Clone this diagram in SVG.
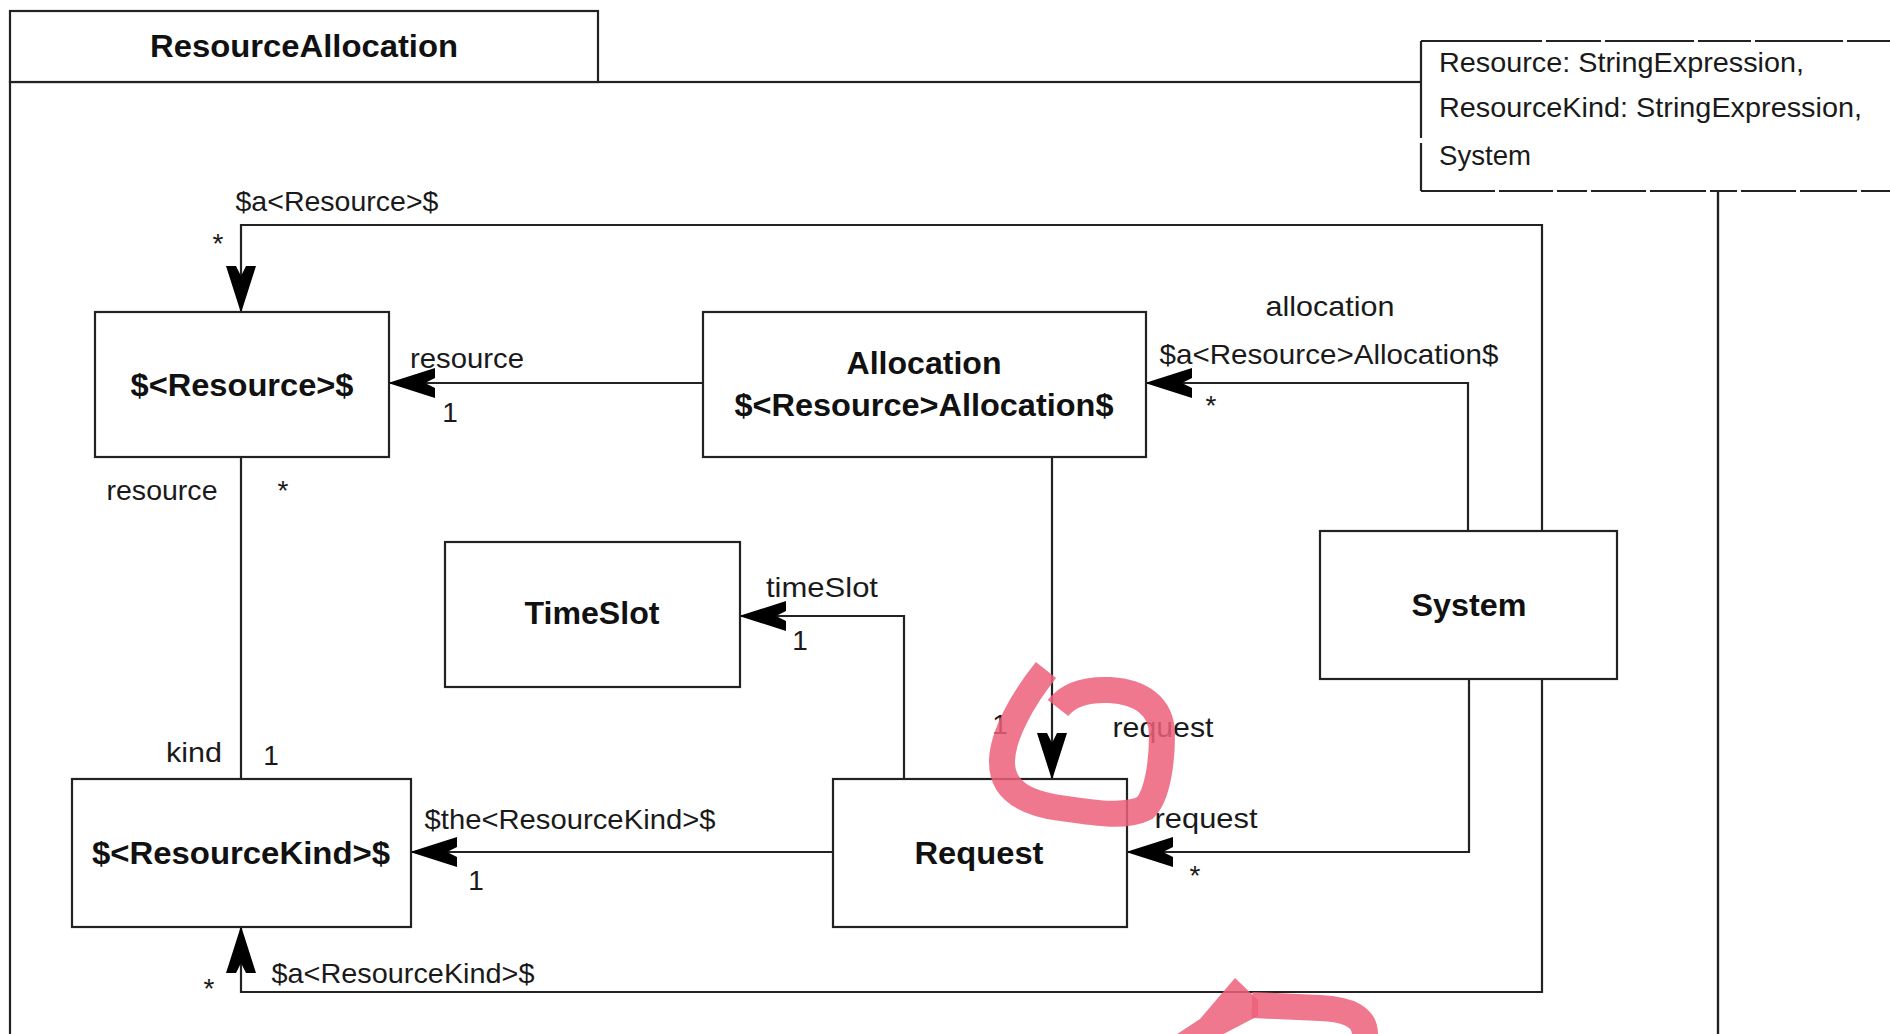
<svg xmlns="http://www.w3.org/2000/svg" width="1890" height="1034" viewBox="0 0 1890 1034">
<style>
.box{fill:#fff;stroke:#222;stroke-width:2.2}
.ln{fill:none;stroke:#222;stroke-width:2.2}
.nt{font-family:"Liberation Sans",Arial,sans-serif;font-weight:bold;font-size:32px;fill:#111;text-anchor:middle;dominant-baseline:central}
.lb{font-family:"Liberation Sans",Arial,sans-serif;font-size:28px;fill:#1a1a1a;text-anchor:middle;dominant-baseline:central}
.nl{font-family:"Liberation Sans",Arial,sans-serif;font-size:28px;fill:#1a1a1a;dominant-baseline:central}
.pk{fill:none;stroke:#ED607A;stroke-width:26;stroke-opacity:0.85}
</style>
<defs>
<marker id="ah" markerUnits="userSpaceOnUse" orient="auto" viewBox="-50 -20 54 40" refX="0" refY="0" markerWidth="54" markerHeight="40">
<path d="M1,0 L-46,-15 L-46,-5 L-36,0 L-46,5 L-46,15 Z" fill="#000"/>
</marker>
</defs>
<rect width="1890" height="1034" fill="#fff"/>
<g id="frame">
<rect class="box" x="10" y="82" width="1708" height="1000"/>
<rect class="box" x="10" y="11" width="588" height="71"/>
<text class="nt" x="304" y="46" textLength="308" lengthAdjust="spacingAndGlyphs">ResourceAllocation</text>
</g>
<g id="template-params">
<rect x="1421" y="41" width="500" height="150" fill="#fff"/>
<path class="ln" d="M1421,41 H1895" stroke-dasharray="121 4 55 4 89 4 53 4 88 4"/>
<path class="ln" d="M1421,191 H1895" stroke-dasharray="74 4 54 4 30 4 55 4 56 4 27 4 55 4 57 4"/>
<path class="ln" d="M1421,41 V191" stroke-dasharray="97 5 60"/>
<text class="nl" x="1439" y="62" textLength="365" lengthAdjust="spacingAndGlyphs">Resource: StringExpression,</text>
<text class="nl" x="1439" y="107" textLength="423" lengthAdjust="spacingAndGlyphs">ResourceKind: StringExpression,</text>
<text class="nl" x="1439" y="155" textLength="92" lengthAdjust="spacingAndGlyphs">System</text>
</g>
<g id="connectors">
<path class="ln" d="M703,383 H389" marker-end="url(#ah)"/>
<path class="ln" d="M1468,531 V383 H1146" marker-end="url(#ah)"/>
<path class="ln" d="M1542,531 V225 H241 V312" marker-end="url(#ah)"/>
<path class="ln" d="M241,457 V779"/>
<path class="ln" d="M1052,457 V779" marker-end="url(#ah)"/>
<path class="ln" d="M904,779 V616 H740" marker-end="url(#ah)"/>
<path class="ln" d="M833,852 H411" marker-end="url(#ah)"/>
<path class="ln" d="M1469,679 V852 H1127" marker-end="url(#ah)"/>
<path class="ln" d="M1542,679 V992 H241 V927" marker-end="url(#ah)"/>
<path class="ln" d="M1718,191 V1040"/>
<text class="lb" x="467" y="358" textLength="114" lengthAdjust="spacingAndGlyphs">resource</text>
<text class="lb" x="450" y="412">1</text>
<text class="lb" x="1330" y="306" textLength="129" lengthAdjust="spacingAndGlyphs">allocation</text>
<text class="lb" x="1329" y="354" textLength="339" lengthAdjust="spacingAndGlyphs">$a&lt;Resource&gt;Allocation$</text>
<text class="lb" x="1211" y="405">*</text>
<text class="lb" x="337" y="201" textLength="203" lengthAdjust="spacingAndGlyphs">$a&lt;Resource&gt;$</text>
<text class="lb" x="218" y="243">*</text>
<text class="lb" x="162" y="490" textLength="111" lengthAdjust="spacingAndGlyphs">resource</text>
<text class="lb" x="283" y="490">*</text>
<text class="lb" x="194" y="752" textLength="56" lengthAdjust="spacingAndGlyphs">kind</text>
<text class="lb" x="271" y="755">1</text>
<text class="lb" x="1000" y="724">1</text>
<text class="lb" x="1163" y="727" textLength="101" lengthAdjust="spacingAndGlyphs">request</text>
<text class="lb" x="822" y="587" textLength="112" lengthAdjust="spacingAndGlyphs">timeSlot</text>
<text class="lb" x="800" y="640">1</text>
<text class="lb" x="570" y="819" textLength="291" lengthAdjust="spacingAndGlyphs">$the&lt;ResourceKind&gt;$</text>
<text class="lb" x="476" y="880">1</text>
<text class="lb" x="1206" y="818" textLength="103" lengthAdjust="spacingAndGlyphs">request</text>
<text class="lb" x="1195" y="875">*</text>
<text class="lb" x="403" y="973" textLength="263" lengthAdjust="spacingAndGlyphs">$a&lt;ResourceKind&gt;$</text>
<text class="lb" x="209" y="988">*</text>
</g>
<g id="Resource">
<rect class="box" x="95" y="312" width="294" height="145"/>
<text class="nt" x="242" y="385" textLength="223" lengthAdjust="spacingAndGlyphs">$&lt;Resource&gt;$</text>
</g>
<g id="Allocation">
<rect class="box" x="703" y="312" width="443" height="145"/>
<text class="nt" x="924" y="363" textLength="155" lengthAdjust="spacingAndGlyphs">Allocation</text>
<text class="nt" x="924" y="405" textLength="379" lengthAdjust="spacingAndGlyphs">$&lt;Resource&gt;Allocation$</text>
</g>
<g id="TimeSlot">
<rect class="box" x="445" y="542" width="295" height="145"/>
<text class="nt" x="592" y="613" textLength="135" lengthAdjust="spacingAndGlyphs">TimeSlot</text>
</g>
<g id="ResourceKind">
<rect class="box" x="72" y="779" width="339" height="148"/>
<text class="nt" x="241" y="853" textLength="298" lengthAdjust="spacingAndGlyphs">$&lt;ResourceKind&gt;$</text>
</g>
<g id="Request">
<rect class="box" x="833" y="779" width="294" height="148"/>
<text class="nt" x="979" y="853" textLength="129" lengthAdjust="spacingAndGlyphs">Request</text>
</g>
<g id="System">
<rect class="box" x="1320" y="531" width="297" height="148"/>
<text class="nt" x="1469" y="605" textLength="115" lengthAdjust="spacingAndGlyphs">System</text>
</g>
<g id="annotations">
<path class="pk" d="M1046,670 C1022,700 1003,735 1002,760 C1001,790 1025,803 1060,808 C1095,813 1125,818 1145,808 C1158,795 1162,760 1162,735 C1162,705 1140,692 1110,690 C1085,689 1068,695 1058,708"/>
<polygon points="1235,978 1258,1000 1258,1016 1212,1040 1168,1040 1200,1019" fill="#ED607A" fill-opacity="0.85"/>
<path class="pk" d="M1252,1005 L1320,1008 Q1365,1010 1365,1034 L1365,1045"/>
</g>
</svg>
